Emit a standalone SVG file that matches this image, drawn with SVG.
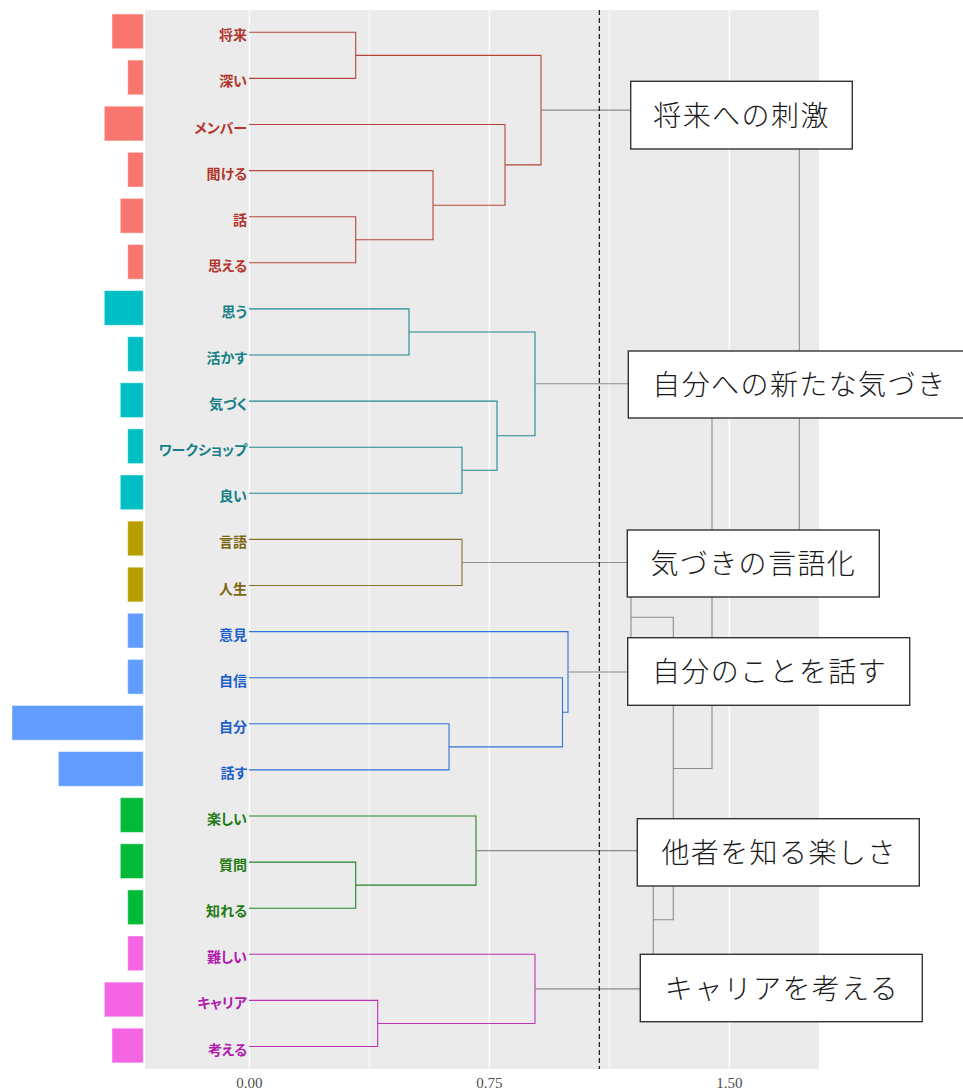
<svg xmlns="http://www.w3.org/2000/svg" width="963" height="1091" viewBox="0 0 963 1091">
<style>
.lbl{font-family:"Noto Sans CJK JP","Noto Sans",sans-serif;font-weight:700;font-size:14px;text-anchor:end;font-feature-settings:"palt"}
.box rect{fill:#fff;stroke:#333;stroke-width:1.4}
.box text{font-family:"Noto Sans CJK JP",sans-serif;font-weight:300;font-size:28px;letter-spacing:1.4px;fill:#1a1a1a}
.ax{font-family:"Liberation Serif",serif;font-size:15px;fill:#4D4D4D;text-anchor:middle}
.d{fill:none;stroke-width:1.1}
.g{fill:none;stroke:#8c8c8c;stroke-width:1.1}
.bar{stroke:#ffffff;stroke-opacity:0.45;stroke-width:1}
</style>
<rect width="963" height="1091" fill="#fff"/>
<g id="panel">
<rect x="145" y="10" width="674" height="1059" fill="#EBEBEB"/>
<g stroke="#fff" stroke-width="0.8">
<line x1="369.3" y1="10" x2="369.3" y2="1069"/>
<line x1="609.3" y1="10" x2="609.3" y2="1069"/>
</g>
<g stroke="#fff" stroke-width="1.3">
<line x1="249.3" y1="10" x2="249.3" y2="1069"/>
<line x1="489.3" y1="10" x2="489.3" y2="1069"/>
<line x1="729.3" y1="10" x2="729.3" y2="1069"/>
</g>
</g>
<g id="bars">
<rect class="bar" x="112" y="14" width="31.3" height="34.7" fill="#F8766D"/>
<rect class="bar" x="127.7" y="60.1" width="15.6" height="34.7" fill="#F8766D"/>
<rect class="bar" x="104.3" y="106.2" width="39" height="34.7" fill="#F8766D"/>
<rect class="bar" x="127.7" y="152.3" width="15.6" height="34.7" fill="#F8766D"/>
<rect class="bar" x="120.3" y="198.4" width="23" height="34.7" fill="#F8766D"/>
<rect class="bar" x="127.7" y="244.5" width="15.6" height="34.7" fill="#F8766D"/>
<rect class="bar" x="104.3" y="290.6" width="39" height="34.7" fill="#00BFC4"/>
<rect class="bar" x="127.7" y="336.7" width="15.6" height="34.7" fill="#00BFC4"/>
<rect class="bar" x="120.3" y="382.8" width="23" height="34.7" fill="#00BFC4"/>
<rect class="bar" x="127.7" y="428.9" width="15.6" height="34.7" fill="#00BFC4"/>
<rect class="bar" x="120.3" y="475" width="23" height="34.7" fill="#00BFC4"/>
<rect class="bar" x="127.7" y="521.1" width="15.6" height="34.7" fill="#B79F00"/>
<rect class="bar" x="127.7" y="567.2" width="15.6" height="34.7" fill="#B79F00"/>
<rect class="bar" x="127.7" y="613.3" width="15.6" height="34.7" fill="#619CFF"/>
<rect class="bar" x="127.7" y="659.4" width="15.6" height="34.7" fill="#619CFF"/>
<rect class="bar" x="12" y="705.5" width="131.3" height="34.7" fill="#619CFF"/>
<rect class="bar" x="58.3" y="751.6" width="85" height="34.7" fill="#619CFF"/>
<rect class="bar" x="120.3" y="797.7" width="23" height="34.7" fill="#00BA38"/>
<rect class="bar" x="120.3" y="843.8" width="23" height="34.7" fill="#00BA38"/>
<rect class="bar" x="127.7" y="889.9" width="15.6" height="34.7" fill="#00BA38"/>
<rect class="bar" x="127.7" y="936" width="15.6" height="34.7" fill="#F564E3"/>
<rect class="bar" x="104.3" y="982.1" width="39" height="34.7" fill="#F564E3"/>
<rect class="bar" x="112" y="1028.2" width="31.3" height="34.7" fill="#F564E3"/>
</g>
<g id="labels">
<g fill="#B2352B">
<text class="lbl" x="247" y="40.3">将来</text>
<text class="lbl" x="247" y="86.4">深い</text>
<text class="lbl" x="247" y="132.5">メンバー</text>
<text class="lbl" x="247" y="178.6">聞ける</text>
<text class="lbl" x="247" y="224.7">話</text>
<text class="lbl" x="247" y="270.8">思える</text>
</g>
<g fill="#137F86">
<text class="lbl" x="247" y="316.9">思う</text>
<text class="lbl" x="247" y="363">活かす</text>
<text class="lbl" x="247" y="409.1">気づく</text>
<text class="lbl" x="247" y="455.2">ワークショップ</text>
<text class="lbl" x="247" y="501.3">良い</text>
</g>
<g fill="#7D6512">
<text class="lbl" x="247" y="547.4">言語</text>
<text class="lbl" x="247" y="593.5">人生</text>
</g>
<g fill="#1C5FCC">
<text class="lbl" x="247" y="639.6">意見</text>
<text class="lbl" x="247" y="685.7">自信</text>
<text class="lbl" x="247" y="731.8">自分</text>
<text class="lbl" x="247" y="777.9">話す</text>
</g>
<g fill="#1F7A12">
<text class="lbl" x="247" y="824">楽しい</text>
<text class="lbl" x="247" y="870.1">質問</text>
<text class="lbl" x="247" y="916.2">知れる</text>
</g>
<g fill="#B01AAE">
<text class="lbl" x="247" y="962.3">難しい</text>
<text class="lbl" x="247" y="1008.4">キャリア</text>
<text class="lbl" x="247" y="1054.5">考える</text>
</g>
</g>
<g id="connectors">
<g class="d" stroke="#B5473A">
<path d="M249,32.3 H355.7 V78.4 H249"/>
<path d="M249,216.7 H355.7 V262.8 H249"/>
<path d="M249,170.6 H433 V239.75 H355.7"/>
<path d="M249,124.5 H505 V205.2 H433"/>
<path d="M355.7,55.35 H541 V164.85 H505"/>
</g>
<g class="d" stroke="#1E8A90">
<path d="M249,308.9 H409 V355 H249"/>
<path d="M249,447.2 H462 V493.3 H249"/>
<path d="M249,401.1 H497 V470.25 H462"/>
<path d="M409,331.95 H535 V435.7 H497"/>
</g>
<g class="d" stroke="#86702A">
<path d="M249,539.4 H462 V585.5 H249"/>
</g>
<g class="d" stroke="#2F74D8">
<path d="M249,723.8 H449 V769.9 H249"/>
<path d="M249,677.7 H562.5 V746.85 H449"/>
<path d="M249,631.6 H568 V712.3 H562.5"/>
</g>
<g class="d" stroke="#22862A">
<path d="M249,862.1 H355.7 V908.2 H249"/>
<path d="M249,816 H476 V885.15 H355.7"/>
</g>
<g class="d" stroke="#BB33BB">
<path d="M249,1000.4 H377.7 V1046.5 H249"/>
<path d="M249,954.3 H535 V1023.45 H377.7"/>
</g>
<g>
<path class="g" d="M541,110.1 H799.3 V576.15 H712"/>
<path class="g" d="M535,383.8 H712 V768.5 H673.3"/>
<path class="g" d="M631,617.2 H673.3 V919.75 H653.3"/>
<path class="g" d="M462,562.45 H631 V671.95 H568"/>
<path class="g" d="M476,850.6 H653.3 V988.9 H535"/>
</g>
<line x1="599.3" y1="10" x2="599.3" y2="1069" stroke="#000" stroke-width="1.1" stroke-dasharray="5,3"/>
</g>
<g id="box1" class="box">
<rect x="630.7" y="81.3" width="221.6" height="67.7"/>
<text x="741.5" y="125.8" text-anchor="middle">将来への刺激</text>
</g>
<g id="box2" class="box">
<rect x="628.3" y="351" width="345" height="67"/>
<text x="652.3" y="395.1">自分への新たな気づき</text>
</g>
<g id="box3" class="box">
<rect x="627.3" y="530" width="252" height="67"/>
<text x="753.3" y="574.1" text-anchor="middle">気づきの言語化</text>
</g>
<g id="box4" class="box">
<rect x="627.7" y="637.7" width="282" height="67.6"/>
<text x="769.5" y="682.1" text-anchor="middle">自分のことを話す</text>
</g>
<g id="box5" class="box">
<rect x="637.3" y="818.7" width="282" height="67.3"/>
<text x="779" y="863" text-anchor="middle">他者を知る楽しさ</text>
</g>
<g id="box6" class="box">
<rect x="640.3" y="954.3" width="282" height="67.4"/>
<text x="782" y="998.6" text-anchor="middle">キャリアを考える</text>
</g>
<g id="axis">
<text class="ax" x="249.3" y="1088">0.00</text>
<text class="ax" x="489.3" y="1088">0.75</text>
<text class="ax" x="729.3" y="1088">1.50</text>
</g>
</svg>
